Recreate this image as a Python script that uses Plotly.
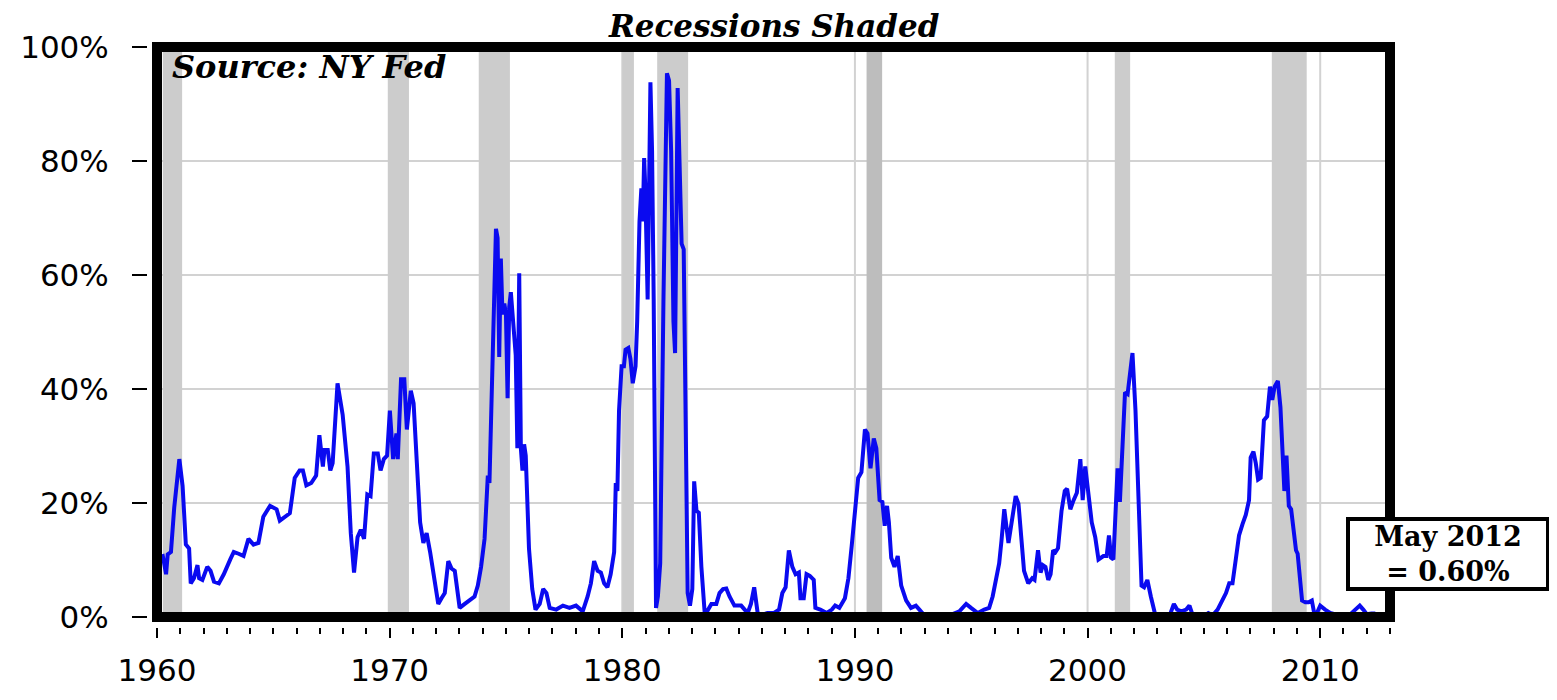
import plotly.graph_objects as go

# ---- data ----
years = [
    1960.10, 1960.25, 1960.39, 1960.46, 1960.60, 1960.74, 1960.96, 1961.10, 1961.24, 1961.38,
    1961.45, 1961.59, 1961.74, 1961.81, 1961.95, 1962.16, 1962.30, 1962.45, 1962.66, 1962.87,
    1963.15, 1963.30, 1963.51, 1963.72, 1963.93, 1964.15, 1964.36, 1964.57, 1964.86, 1965.14,
    1965.28, 1965.49, 1965.71, 1965.92, 1966.13, 1966.27, 1966.42, 1966.63, 1966.84, 1966.98,
    1967.13, 1967.20, 1967.34, 1967.45, 1967.55, 1967.76, 1967.98, 1968.19, 1968.33, 1968.47,
    1968.62, 1968.76, 1968.90, 1969.04, 1969.18, 1969.32, 1969.49, 1969.61, 1969.75, 1969.89,
    1970.01, 1970.15, 1970.29, 1970.35, 1970.49, 1970.63, 1970.74, 1970.91, 1971.03, 1971.17,
    1971.31, 1971.45, 1971.59, 1971.74, 1971.88, 1972.09, 1972.23, 1972.37, 1972.52, 1972.66,
    1972.80, 1973.01, 1973.23, 1973.44, 1973.65, 1973.79, 1973.93, 1974.08, 1974.22, 1974.29,
    1974.36, 1974.43, 1974.50, 1974.57, 1974.64, 1974.71, 1974.78, 1974.85, 1974.93, 1975.00,
    1975.07, 1975.14, 1975.21, 1975.28, 1975.42, 1975.49, 1975.57, 1975.64, 1975.71, 1975.78,
    1975.85, 1975.99, 1976.13, 1976.27,
    1976.45, 1976.60, 1976.74, 1976.88, 1977.16, 1977.45, 1977.73, 1978.01, 1978.30, 1978.51,
    1978.65, 1978.79, 1978.94, 1979.08, 1979.22, 1979.36, 1979.50, 1979.65, 1979.72, 1979.79,
    1979.86, 1979.97, 1980.07, 1980.14, 1980.26, 1980.35, 1980.45, 1980.57, 1980.64, 1980.74,
    1980.82, 1980.88, 1980.94, 1980.99, 1981.04, 1981.09, 1981.21, 1981.28, 1981.35, 1981.45,
    1981.53, 1981.63, 1981.77, 1981.92, 1982.01, 1982.10, 1982.20, 1982.27, 1982.38, 1982.48,
    1982.55, 1982.64, 1982.72, 1982.81, 1982.91, 1983.01, 1983.09, 1983.19, 1983.29, 1983.40,
    1983.55, 1983.69, 1983.83, 1984.04, 1984.18, 1984.33, 1984.47, 1984.61, 1984.82, 1985.11,
    1985.39, 1985.53, 1985.67, 1985.82, 1985.96, 1986.24, 1986.52, 1986.74, 1986.88, 1987.02,
    1987.16, 1987.31, 1987.45, 1987.59, 1987.66, 1987.80, 1987.92, 1988.06, 1988.23, 1988.30,
    1988.51, 1988.79, 1989.01, 1989.15, 1989.33, 1989.57, 1989.72, 1989.86, 1990.00, 1990.14,
    1990.28, 1990.43, 1990.54, 1990.67, 1990.81, 1990.92, 1991.06, 1991.18, 1991.28, 1991.38,
    1991.46, 1991.56, 1991.70, 1991.84, 1991.99, 1992.20, 1992.41, 1992.62, 1992.77, 1992.98,
    1993.33,
    1993.50, 1994.07, 1994.49, 1994.78, 1994.99, 1995.28, 1995.56, 1995.77, 1995.92, 1996.06,
    1996.20, 1996.30, 1996.42, 1996.60, 1996.77, 1996.91, 1997.03, 1997.13, 1997.27, 1997.45,
    1997.62, 1997.72, 1997.87, 1997.98, 1998.08, 1998.19, 1998.31, 1998.41, 1998.52, 1998.62,
    1998.73, 1998.88, 1999.02, 1999.12, 1999.26, 1999.40, 1999.54, 1999.69, 1999.79, 1999.90,
    2000.04, 2000.18, 2000.33, 2000.47, 2000.68, 2000.82, 2000.92, 2001.01, 2001.11, 2001.21,
    2001.29, 2001.39, 2001.51, 2001.61, 2001.72, 2001.82, 2001.93, 2002.06, 2002.18, 2002.25,
    2002.32, 2002.43, 2002.57, 2002.72, 2002.89, 2003.10, 2003.38, 2003.57, 2003.71, 2003.85,
    2004.03, 2004.24, 2004.38, 2004.52, 2004.74, 2005.02, 2005.19, 2005.38, 2005.59, 2005.80,
    2005.95, 2006.09, 2006.23, 2006.37, 2006.51, 2006.66, 2006.80, 2006.94, 2007.01, 2007.13,
    2007.23, 2007.33, 2007.44, 2007.58, 2007.72, 2007.84, 2007.94, 2008.04, 2008.18, 2008.29,
    2008.39, 2008.46, 2008.55, 2008.65, 2008.75, 2008.86, 2008.96, 2009.03, 2009.12, 2009.22,
    2009.36, 2009.50, 2009.64, 2009.74, 2009.86, 2010.00, 2010.21, 2010.43, 2010.70, 2011.00,
    2011.30, 2011.50, 2011.70, 2011.85, 2012.00, 2012.20, 2012.37,
]

prob = [
    10.5, 10.7, 7.5, 11.0, 11.4, 19.2, 27.7, 23.0, 12.7, 12.0,
    5.9, 6.8, 9.1, 6.8, 6.5, 8.8, 8.1, 6.2, 5.9, 7.5,
    10.1, 11.4, 11.1, 10.7, 13.7, 12.7, 13.0, 17.6, 19.5, 18.9,
    16.9, 17.6, 18.2, 24.4, 25.7, 25.7, 23.1, 23.5, 24.8, 31.9,
    26.4, 29.3, 29.3, 25.7, 27.0, 41.0, 35.5, 26.4, 14.7, 7.8,
    14.0, 15.3, 13.7, 21.5, 21.2, 28.7, 28.7, 25.7, 27.7, 28.3,
    36.2, 27.7, 32.2, 27.7, 41.7, 41.7, 32.9, 39.7, 37.5, 27.0,
    16.6, 13.0, 14.7, 11.4, 7.8, 2.3, 3.3, 4.2, 9.8, 8.5,
    8.1, 1.6, 2.3, 2.9, 3.6, 5.5, 8.8, 13.7, 24.8, 23.5,
    36.2, 47.2, 61.0, 68.1, 66.5, 45.6, 62.9, 53.1, 55.0, 53.1,
    38.4, 54.4, 57.0, 53.7, 45.9, 29.6, 60.3, 29.6, 25.7, 30.3,
    28.3, 12.0, 4.9, 1.3,
    2.3, 4.9, 4.2, 1.6, 1.3, 2.0, 1.6, 2.0, 1.0, 3.6,
    5.9, 9.8, 8.1, 7.8, 5.9, 5.2, 7.5, 11.4, 23.5, 22.1,
    36.2, 44.0, 44.0, 46.9, 47.2, 45.3, 41.0, 44.0, 51.8, 69.4,
    75.2, 69.4, 80.5, 75.2, 62.2, 55.7, 93.8, 81.8, 55.7, 1.6,
    3.6, 9.4, 55.7, 95.4, 94.1, 81.8, 51.8, 46.3, 92.8, 72.0,
    65.5, 64.5, 32.9, 4.2, 2.0, 4.9, 23.8, 18.6, 18.3, 8.8,
    0.3, 1.3, 2.3, 2.3, 4.2, 4.9, 5.0, 3.6, 2.0, 2.0,
    0.7, 2.3, 5.2, 0.7, 0.3, 0.7, 0.7, 1.3, 4.2, 5.2,
    11.7, 8.8, 7.5, 7.8, 3.3, 3.3, 7.5, 7.2, 6.5, 1.6,
    1.3, 0.7, 1.3, 2.0, 1.6, 3.3, 6.8, 12.4, 18.9, 24.4,
    25.4, 32.9, 32.2, 26.1, 31.3, 29.6, 20.5, 20.2, 16.0, 19.5,
    16.6, 10.4, 8.8, 10.7, 5.5, 2.9, 1.6, 2.0, 1.3, 0.3,
    0.2,
    0.2, 0.3, 1.0, 2.3, 1.6, 0.7, 1.3, 1.6, 3.6, 6.8,
    9.4, 13.4, 18.9, 13.0, 17.3, 21.2, 19.9, 14.0, 8.1, 5.9,
    6.8, 6.5, 11.7, 7.8, 9.1, 8.8, 6.5, 7.5, 11.7, 11.4,
    12.1, 18.6, 22.1, 22.5, 18.9, 20.5, 21.8, 27.7, 20.5, 26.4,
    21.8, 16.6, 14.0, 10.1, 10.7, 10.7, 14.3, 10.4, 10.1, 17.3,
    26.1, 20.2, 29.6, 39.4, 39.1, 43.3, 46.3, 36.2, 22.5, 15.3,
    5.5, 5.2, 6.5, 3.6, 0.7, 0.2, 0.2, 0.7, 2.3, 1.3,
    1.0, 1.3, 2.0, 0.3, 0.2, 0.2, 0.7, 0.3, 1.3, 2.9,
    4.2, 5.9, 5.9, 10.1, 14.3, 16.3, 17.9, 20.5, 28.0, 29.0,
    27.0, 24.1, 24.4, 34.5, 35.2, 40.4, 38.1, 40.4, 41.4, 36.8,
    28.7, 22.1, 28.3, 19.5, 18.9, 14.7, 11.7, 11.1, 6.5, 2.9,
    2.6, 2.6, 2.9, 0.7, 0.7, 2.0, 1.3, 0.7, 0.4, 0.3,
    0.5, 1.2, 2.0, 1.3, 0.5, 0.6, 0.6,
]

rec_start = [1960.25, 1969.92, 1973.83, 1980.00, 1981.50, 1990.50, 2001.17, 2007.92]
rec_end = [1961.08, 1970.83, 1975.17, 1980.50, 1982.83, 1991.17, 2001.83, 2009.42]

grid_years = [1970, 1980, 1990, 2000, 2010]
grid_pcts = [20, 40, 60, 80]

y_ticks = [0, 20, 40, 60, 80, 100]
y_tick_text = ["0%", "20%", "40%", "60%", "80%", "100%"]

title_text = "Recessions Shaded"
source_text = "Source: NY Fed"
last_text = "May 2012<br>= 0.60%"

# ---- figure ----
GRID = "#d2d2d2"
SHADE = "#cccccc"
SHADE_DARK = "#bdbdbd"

fig = go.Figure()
fig.add_trace(go.Scatter(
    x=years, y=prob, mode="lines",
    line=dict(color="#0a0af0", width=4),
    hoverinfo="skip", showlegend=False,
))

# gridlines (drawn first so the recession bands cover them)
for g in grid_pcts:
    fig.add_shape(type="line", xref="x domain", yref="y", x0=0, x1=1, y0=g, y1=g,
                  line=dict(color=GRID, width=2), layer="below")
for g in grid_years:
    fig.add_shape(type="line", xref="x", yref="y domain", x0=g, x1=g, y0=0, y1=1,
                  line=dict(color=GRID, width=2), layer="below")

for s, e in zip(rec_start, rec_end):
    col = SHADE_DARK if 1990 <= s < 1991 else SHADE
    fig.add_shape(type="rect", xref="x", yref="y domain", x0=s, x1=e, y0=0, y1=1,
                  fillcolor=col, line_width=0, layer="below")

# heavy frame
fig.add_shape(type="rect", xref="x domain", yref="y domain", x0=0, x1=1, y0=0, y1=1,
              line=dict(color="black", width=10), fillcolor="rgba(0,0,0,0)", layer="above")

tick_font = dict(family="DejaVu Sans", size=31, color="black")
serif_bi = dict(family="DejaVu Serif", color="black", weight="bold", style="italic")

# the page body adds an 8px offset, so the figure is 8px smaller than the window
fig.update_layout(
    width=1549, height=692,
    margin=dict(l=140, r=167, t=39, b=64),
    paper_bgcolor="white", plot_bgcolor="white",
    xaxis=dict(
        range=[1960, 2013], tickmode="linear", tick0=1960, dtick=10,
        showgrid=False, zeroline=False,
        ticks="outside", ticklen=10, tickwidth=2, tickcolor="black",
        showline=True, linecolor="rgba(0,0,0,0)", linewidth=11,
        minor=dict(tick0=1960, dtick=1, ticks="outside", ticklen=6, tickwidth=2,
                   tickcolor="black", showgrid=False),
        tickfont=tick_font, ticklabelstandoff=6,
    ),
    yaxis=dict(
        range=[0, 100], tickmode="array", tickvals=y_ticks, ticktext=y_tick_text,
        showgrid=False, zeroline=False,
        ticks="outside", ticklen=15, tickwidth=2, tickcolor="black",
        showline=True, linecolor="rgba(0,0,0,0)", linewidth=10,
        tickfont=tick_font, ticklabelstandoff=17,
    ),
    annotations=[
        dict(text=title_text, xref="x domain", yref="y domain", x=0.5, y=1.0374,
             xanchor="center", yanchor="middle", showarrow=False, borderpad=0,
             font=dict(size=31, **serif_bi)),
        dict(text=source_text, xref="x domain", yref="y domain", x=0.0104, y=0.965,
             xanchor="left", yanchor="middle", showarrow=False,
             font=dict(size=32, **serif_bi)),
        dict(text=last_text, xref="x domain", yref="y domain", x=1.0467, y=0.0458,
             xanchor="center", yanchor="bottom", showarrow=False, width=196,
             font=dict(family="DejaVu Serif", size=27, color="black", weight="bold"),
             bgcolor="white", bordercolor="black", borderwidth=4, borderpad=0),
    ],
)

fig.write_html("out.html")
